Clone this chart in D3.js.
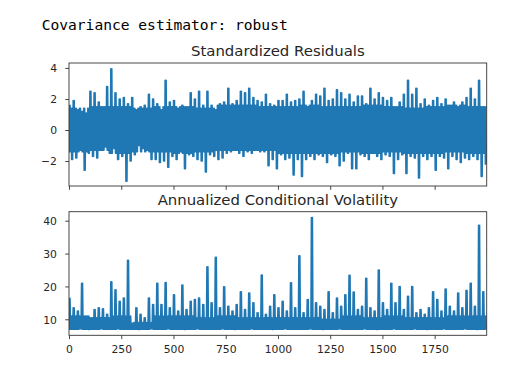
<!DOCTYPE html>
<html><head><meta charset="utf-8">
<script src="https://cdn.jsdelivr.net/npm/d3@7"></script>
<style>body{margin:0;background:#fff}svg{display:block}</style>
</head><body>
<svg id="chart" width="508" height="372"></svg>
<script>
const headerText = "Covariance estimator: robust";
const titles = ["Standardized Residuals", "Annualized Conditional Volatility"];
const xTicks = [0, 250, 500, 750, 1000, 1250, 1500, 1750];
const residTicks = [-2, 0, 2, 4];
const volTicks = [10, 20, 30, 40];

// spike tops / bottoms of the residual trace, one pair per 20 observations
const residHigh = [1.6,1.9,1.3,1.2,1.1,2.5,2.4,1.8,1.5,2.8,
  3.95,2.4,2.0,2.1,1.7,2.1,1.3,1.5,1.6,2.3,
  2.0,1.7,1.3,3.2,1.8,1.9,1.4,1.6,1.5,2.4,
  2.0,2.5,1.6,2.5,1.6,1.3,1.7,1.8,2.7,1.7,
  1.9,2.5,2.4,2.7,2.1,1.9,1.8,2.3,1.7,1.6,
  1.9,1.9,2.3,1.8,1.9,2.0,2.5,1.5,1.9,2.3,
  2.2,2.7,1.9,2.0,2.6,2.4,2.0,2.3,1.8,2.2,
  2.2,1.7,2.7,2.0,2.4,2.1,1.9,2.1,1.5,1.8,
  2.3,3.2,2.3,2.7,1.7,2.0,1.6,1.9,2.1,1.7,
  2.0,1.6,1.8,1.5,1.8,2.1,2.7,2.0,3.2,1.5];
const residLow = [-1.9,-1.8,-1.3,-2.6,-1.5,-1.7,-1.8,-1.3,-1.1,-1.5,
  -1.2,-1.9,-1.7,-3.3,-2.0,-1.6,-1.0,-1.2,-1.3,-1.9,
  -1.9,-2.1,-2.0,-2.4,-1.7,-1.9,-1.4,-2.5,-1.6,-1.7,
  -1.9,-2.0,-2.7,-1.6,-1.7,-1.9,-1.8,-1.5,-1.4,-1.3,
  -1.5,-1.7,-1.4,-1.5,-1.3,-1.4,-1.4,-2.3,-1.9,-2.5,
  -1.6,-1.9,-1.8,-2.9,-1.9,-3.0,-1.9,-1.7,-1.9,-1.6,
  -1.7,-2.1,-1.6,-1.7,-2.3,-2.0,-1.5,-2.5,-2.5,-1.6,
  -1.7,-1.9,-1.5,-1.7,-1.9,-1.6,-1.7,-2.8,-1.9,-1.6,
  -2.8,-1.7,-1.8,-3.1,-1.7,-1.9,-1.7,-2.6,-1.7,-1.8,
  -2.5,-1.7,-1.9,-2.1,-1.8,-1.9,-1.7,-1.9,-3.0,-2.2];
// extent of the solid body of the residual band, one value per 100 observations
const residCoreHigh = [1.4,1.5,1.5,1.4,1.5,1.5,1.4,1.6,1.6,1.5,1.5,1.6,1.5,1.5,1.6,1.5,1.4,1.5,1.6,1.5];
const residCoreLow = [-1.4,-1.3,-1.5,-1.4,-1.4,-1.5,-1.4,-1.3,-1.3,-1.3,-1.5,-1.5,-1.5,-1.4,-1.5,-1.4,-1.5,-1.5,-1.4,-1.5];

// spike tops / floor of the volatility trace, one pair per 20 observations
const volHigh = [16.4,13.5,12.5,21.0,11.0,10.5,13.0,13.5,13.2,11.5,
  21.4,19.0,15.5,16.5,28.0,8.8,13.5,11.5,10.5,16.5,
  14.5,21.0,14.5,21.2,13.5,17.5,12.5,20.4,13.0,15.5,
  16.0,16.5,14.5,26.0,15.0,28.9,13.5,19.9,14.0,12.5,
  14.5,18.4,13.0,18.0,15.0,12.0,23.5,11.5,14.0,17.5,
  13.5,15.5,12.5,21.1,13.5,29.3,12.0,16.0,41.0,15.0,
  14.0,13.0,18.4,12.0,16.5,14.0,17.5,23.4,18.3,13.0,
  14.0,22.5,13.5,12.5,25.0,15.0,13.0,21.0,15.0,20.0,
  13.0,17.0,20.0,12.0,13.0,11.5,13.5,18.4,16.0,12.5,
  19.2,14.0,12.5,18.0,13.5,18.8,21.0,14.0,38.6,18.4];
const volLow = [7.0,7.0,7.1,7.0,6.9,7.0,7.0,7.1,7.0,7.0,
  7.0,7.1,7.0,7.0,7.0,7.0,6.9,7.0,7.0,7.1,
  7.0,7.0,7.0,7.1,7.0,7.0,7.0,6.9,7.0,7.0,
  7.1,7.0,7.0,7.0,7.0,7.0,7.1,7.0,7.0,6.9,
  7.0,7.0,7.0,7.1,7.0,7.0,7.0,7.0,6.9,7.0,
  7.0,7.1,7.0,7.0,7.0,7.0,7.0,7.1,7.0,7.0,
  6.9,7.0,7.0,7.0,7.1,7.0,7.0,7.0,7.0,7.0,
  7.1,7.0,7.0,6.9,7.0,7.0,7.0,7.1,7.0,7.0,
  7.0,7.0,7.1,7.0,7.0,6.9,7.0,7.0,7.0,7.1,
  7.0,7.0,7.0,7.0,7.1,7.0,7.0,6.9,7.0,7.0];
// top / floor of the solid body of the volatility band, one value per 100 observations
const volCoreHigh = [11.0,10.5,11.0,9.0,11.0,11.0,10.5,11.0,10.5,10.5,10.5,10.5,10.0,11.0,10.5,11.0,10.5,10.5,11.0,11.0];
const volCoreLow = [7.0,7.0,7.0,7.0,7.0,7.0,7.0,7.0,7.0,7.0,7.0,7.0,7.0,7.0,7.0,7.0,7.0,7.0,7.0,7.0];

const svg = d3.select("#chart");
const textColor = "#262626";

svg.append("text").attr("x", 41.7).attr("y", 30)
  .attr("font-family", "'DejaVu Sans Mono', monospace").attr("font-size", 14.6)
  .attr("fill", "#000").text(headerText);

const x = d3.scaleLinear().domain([0, 1999]).range([69, 486.7]);

// each 20-observation block: spike top, then body, then spike bottom, drawn as one line
function trace(high, low, coreHigh, coreLow) {
  const pts = [];
  high.forEach((h, k) => {
    const c = Math.floor(k / 5);
    const seq = [h, coreLow[c], h, coreLow[c], coreHigh[c], low[k], coreHigh[c], low[k]];
    seq.forEach((v, j) => pts.push([k * 20 + j * 2.5, v]));
  });
  return pts;
}
const minusFmt = d => (d < 0 ? "\u2212" + Math.abs(d) : String(d));

const panels = [
  {title: titles[0], top: 63, bottom: 186, domain: [-3.61, 4.32], ticks: residTicks,
   high: residHigh, low: residLow, cH: residCoreHigh, cL: residCoreLow, xLabels: false},
  {title: titles[1], top: 211.7, bottom: 335.3, domain: [5.13, 42.74], ticks: volTicks,
   high: volHigh, low: volLow, cH: volCoreHigh, cL: volCoreLow, xLabels: true}
];

panels.forEach((p, i) => {
  const g = svg.append("g");
  const y = d3.scaleLinear().domain(p.domain).range([p.bottom, p.top]);
  const [x0, x1] = x.range();
  const clipId = "clip" + i;
  svg.append("clipPath").attr("id", clipId).append("rect")
    .attr("x", x0).attr("y", p.top).attr("width", x1 - x0).attr("height", p.bottom - p.top);

  g.append("path").datum(trace(p.high, p.low, p.cH, p.cL))
    .attr("clip-path", `url(#${clipId})`)
    .attr("fill", "none").attr("stroke", "#1f77b4").attr("stroke-width", 1.5)
    .attr("stroke-linejoin", "round")
    .attr("d", d3.line().x(d => x(d[0])).y(d => y(d[1])));

  g.append("rect").attr("x", x0).attr("y", p.top).attr("width", x1 - x0).attr("height", p.bottom - p.top)
    .attr("fill", "none").attr("stroke", "#333").attr("stroke-width", 0.9);

  const ya = g.append("g").attr("transform", `translate(${x0},0)`)
    .call(d3.axisLeft(y).tickValues(p.ticks).tickSize(3.8).tickSizeOuter(0).tickPadding(8.2).tickFormat(minusFmt));
  ya.select(".domain").remove();
  ya.selectAll("line").attr("stroke", "#333").attr("stroke-width", 0.9);
  ya.selectAll("text").attr("font-family", "'DejaVu Sans', sans-serif").attr("font-size", 10.8)
    .attr("fill", textColor).attr("dy", "0.35em");

  const xa = g.append("g").attr("transform", `translate(0,${p.bottom})`)
    .call(d3.axisBottom(x).tickValues(xTicks).tickSize(3.8).tickSizeOuter(0).tickFormat(p.xLabels ? d => String(d) : () => ""));
  xa.select(".domain").remove();
  xa.selectAll("line").attr("stroke", "#333").attr("stroke-width", 0.9);
  xa.selectAll("text").attr("font-family", "'DejaVu Sans', sans-serif").attr("font-size", 10.8)
    .attr("fill", textColor).attr("y", 18).attr("dy", 0);

  g.append("text").attr("x", (x0 + x1) / 2).attr("y", p.top - 7)
    .attr("text-anchor", "middle").attr("font-family", "'DejaVu Sans', sans-serif")
    .attr("font-size", 14.9).attr("fill", textColor).text(p.title);
});
</script>
</body></html>
